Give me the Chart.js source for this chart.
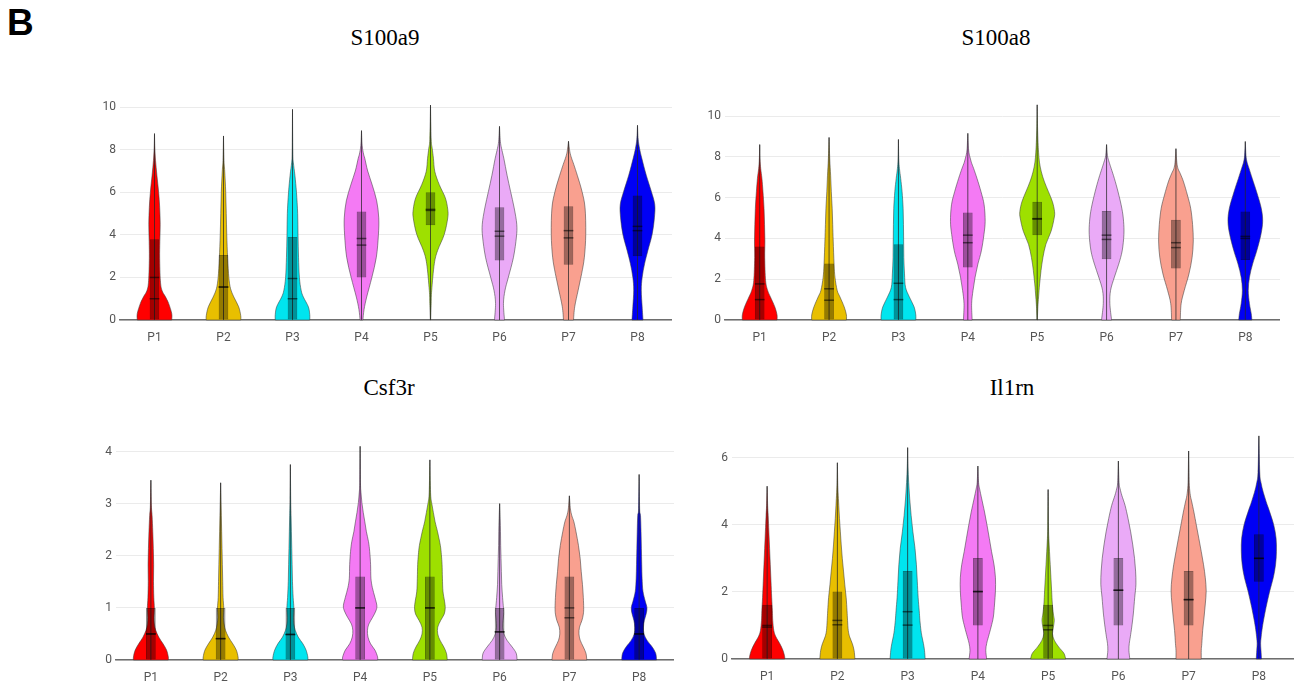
<!DOCTYPE html>
<html lang="en">
<head>
  <meta charset="UTF-8" />
  <title>Violin plots</title>
  <script src="https://cdn.jsdelivr.net/npm/chart.js"></script>
  <style>
    body {
      margin: 0;
      background: #fff;
      width: 1298px;
      height: 681px;
      overflow: hidden;
      position: relative;
    }
    .letter {
      position: absolute;
      left: 7px;
      top: 4px;
      font: bold 37px/37px 'Liberation Sans', Arial, sans-serif;
      color: #000;
    }
    .title {
      position: absolute;
      width: 300px;
      text-align: center;
      font: 23px/23px 'Liberation Serif', 'Times New Roman', serif;
      color: #000;
    }
    canvas {
      position: absolute;
    }
  </style>
</head>
<body>
  <div class="letter">B</div>
  <div class="title" style="left:235px;top:26px">S100a9</div>
  <div class="title" style="left:846px;top:26px">S100a8</div>
  <div class="title" style="left:239px;top:376px">Csf3r</div>
  <div class="title" style="left:862px;top:376px">Il1rn</div>

  <canvas id="cA" width="592" height="250" style="left:80px;top:92px"></canvas>
  <canvas id="cB" width="595" height="250" style="left:685px;top:92px"></canvas>
  <canvas id="cC" width="598" height="250" style="left:76px;top:432px"></canvas>
  <canvas id="cD" width="602" height="261" style="left:692px;top:420px"></canvas>

  <script>
    const categories = ['P1', 'P2', 'P3', 'P4', 'P5', 'P6', 'P7', 'P8'];

    // violin outlines: [value, relative density], last point = max
    const s100a9Profiles = [
      [[0,1],[0.3,1],[0.78,0.82],[1.1,0.63],[1.4,0.43],[1.86,0.34],[2.9,0.3],[3.7,0.31],[4.5,0.33],[5.3,0.3],[6,0.24],[6.8,0.14],[7.5,0.06],[8.1,0.02],[8.76,0]],
      [[0,1],[0.2,1],[0.62,0.88],[1.08,0.6],[1.47,0.41],[2,0.31],[2.9,0.24],[4,0.19],[5,0.16],[6,0.13],[7,0.07],[7.5,0.03],[8.65,0]],
      [[0,1],[0.25,1],[0.62,0.92],[1.08,0.63],[1.4,0.5],[2,0.4],[2.95,0.35],[4,0.32],[5,0.3],[6,0.23],[6.8,0.14],[7.4,0.05],[7.9,0.02],[9.9,0]],
      [[0,0.08],[0.5,0.15],[1.08,0.3],[2,0.6],[2.95,0.86],[4,0.98],[4.8,1],[5.6,0.88],[6.35,0.62],[7,0.36],[7.6,0.19],[7.8,0.12],[8.2,0.04],[8.9,0]],
      [[0,0.01],[0.78,0.04],[1.4,0.07],[2.64,0.22],[3.26,0.41],[4.03,0.8],[4.8,1],[5.2,1],[5.74,0.86],[6.36,0.51],[6.98,0.25],[7.6,0.17],[8.06,0.1],[8.5,0.04],[10.1,0]],
      [[0,0.29],[0.78,0.23],[1.4,0.32],[2,0.51],[2.95,0.81],[3.9,0.98],[4.5,1],[5.27,0.85],[6.05,0.64],[6.8,0.44],[7.6,0.25],[8.06,0.12],[8.4,0.05],[9.1,0]],
      [[0,0.29],[0.62,0.36],[1.4,0.56],[2.17,0.76],[2.95,0.92],[4.03,1],[5.27,0.96],[6.05,0.78],[6.8,0.51],[7.3,0.31],[7.6,0.18],[7.9,0.08],[8.4,0]],
      [[0,0.32],[0.62,0.27],[1.4,0.22],[2,0.27],[2.64,0.41],[3.26,0.6],[4.03,0.85],[4.8,0.98],[5.43,1],[6.05,0.8],[6.8,0.51],[7.6,0.25],[8.06,0.12],[8.5,0.04],[9.15,0]]
    ];
    const s100a9Q1 = [0, 0, 0, 2.0, 4.45, 2.8, 2.6, 3.0];
    const s100a9Q3 = [3.8, 3.05, 3.9, 5.1, 6.0, 5.3, 5.35, 5.85];
    const s100a9Median = [2.0, 1.55, 1.95, 3.83, 5.2, 4.17, 4.2, 4.4];
    const s100a9Mean = [1.0, 1.55, 1.0, 3.52, 5.15, 3.94, 3.86, 4.2];

    const s100a8Profiles = [
      [[0,1],[0.25,1],[0.65,0.87],[1.13,0.62],[1.45,0.46],[1.94,0.34],[3.06,0.29],[3.87,0.3],[4.68,0.28],[5.48,0.25],[6.29,0.19],[6.94,0.13],[7.42,0.06],[7.9,0.02],[8.6,0]],
      [[0,1],[0.25,1],[0.65,0.87],[1.13,0.63],[1.45,0.47],[2.1,0.34],[2.74,0.29],[3.87,0.24],[4.68,0.21],[5.48,0.18],[6.29,0.13],[7.1,0.09],[7.9,0.04],[8.95,0]],
      [[0,1],[0.25,1],[0.65,0.9],[1.13,0.63],[1.6,0.41],[2.26,0.35],[3.06,0.31],[3.87,0.3],[4.68,0.29],[5.48,0.27],[6.29,0.21],[6.94,0.13],[7.42,0.06],[7.9,0.02],[8.85,0]],
      [[0,0.25],[0.8,0.22],[1.45,0.3],[2.1,0.42],[2.74,0.58],[3.39,0.78],[4.19,0.93],[4.84,1],[5.65,0.94],[6.29,0.76],[6.94,0.53],[7.42,0.34],[7.74,0.2],[8.06,0.1],[8.4,0.04],[9.15,0]],
      [[0,0.01],[0.65,0.04],[1.13,0.08],[1.77,0.14],[2.42,0.22],[3.06,0.33],[3.71,0.5],[4.35,0.8],[5,0.98],[5.32,1],[5.8,0.88],[6.29,0.65],[6.77,0.42],[7.26,0.24],[7.74,0.13],[8.23,0.08],[8.7,0.05],[9.5,0.02],[10.55,0]],
      [[0,0.29],[0.8,0.19],[1.45,0.23],[2.1,0.45],[2.74,0.7],[3.39,0.9],[4.19,1],[4.84,0.98],[5.48,0.88],[6.29,0.66],[6.94,0.45],[7.42,0.27],[7.74,0.15],[8.06,0.05],[8.6,0]],
      [[0,0.25],[0.8,0.3],[1.45,0.48],[2.26,0.75],[3.06,0.93],[3.87,1],[4.68,0.96],[5.48,0.85],[6.13,0.66],[6.77,0.44],[7.18,0.25],[7.42,0.12],[7.74,0.05],[8.4,0]],
      [[0,0.38],[0.32,0.34],[0.8,0.24],[1.45,0.17],[2.1,0.24],[2.74,0.42],[3.39,0.66],[4.19,0.9],[4.84,1],[5.48,0.92],[6.29,0.65],[6.94,0.4],[7.42,0.22],[7.74,0.1],[8.06,0.04],[8.75,0]]
    ];
    const s100a8Q1 = [0, 0, 0, 2.58, 4.15, 2.98, 2.53, 2.94];
    const s100a8Q3 = [3.6, 2.77, 3.71, 5.27, 5.8, 5.35, 4.92, 5.32];
    const s100a8Median = [1.77, 1.53, 1.8, 4.16, 4.97, 4.16, 3.79, 4.1];
    const s100a8Mean = [1.0, 0.97, 1.0, 3.79, 4.95, 3.95, 3.55, 4.0];

    const csf3rProfiles = [
      [[0,1],[0.06,1],[0.19,0.9],[0.31,0.7],[0.44,0.45],[0.57,0.28],[0.69,0.2],[0.82,0.18],[1.0,0.2],[1.2,0.17],[1.51,0.15],[1.83,0.16],[2.14,0.14],[2.46,0.11],[2.77,0.07],[2.96,0.03],[3.45,0]],
      [[0,1],[0.06,1],[0.19,0.9],[0.31,0.7],[0.44,0.45],[0.57,0.28],[0.69,0.2],[0.82,0.16],[1.0,0.18],[1.2,0.14],[1.51,0.12],[1.83,0.1],[2.14,0.08],[2.46,0.06],[2.77,0.04],[3.08,0.02],[3.4,0]],
      [[0,1],[0.06,1],[0.19,0.9],[0.31,0.72],[0.44,0.45],[0.57,0.28],[0.69,0.2],[0.82,0.18],[1.0,0.2],[1.2,0.16],[1.51,0.12],[1.83,0.1],[2.14,0.08],[2.46,0.06],[2.77,0.04],[3.08,0.02],[3.75,0]],
      [[0,1],[0.06,1],[0.19,0.85],[0.31,0.6],[0.44,0.45],[0.57,0.42],[0.69,0.5],[0.82,0.72],[0.94,0.9],[1.04,0.96],[1.2,0.85],[1.39,0.7],[1.57,0.62],[1.83,0.6],[2.08,0.55],[2.27,0.48],[2.46,0.36],[2.65,0.27],[2.83,0.18],[3.02,0.1],[3.21,0.05],[3.4,0.02],[4.1,0]],
      [[0,1],[0.13,0.95],[0.25,0.8],[0.38,0.58],[0.5,0.45],[0.63,0.45],[0.76,0.62],[0.88,0.82],[1.0,0.88],[1.13,0.84],[1.32,0.75],[1.57,0.72],[1.83,0.7],[2.02,0.66],[2.2,0.6],[2.46,0.44],[2.65,0.3],[2.83,0.2],[3.02,0.1],[3.21,0.04],[3.84,0]],
      [[0,1],[0.13,0.95],[0.25,0.72],[0.38,0.42],[0.5,0.25],[0.63,0.18],[0.76,0.2],[0.88,0.23],[1.0,0.22],[1.2,0.17],[1.45,0.12],[1.7,0.1],[1.95,0.08],[2.2,0.06],[2.46,0.05],[2.71,0.03],[3.0,0]],
      [[0,1],[0.13,0.95],[0.25,0.8],[0.38,0.62],[0.5,0.55],[0.63,0.58],[0.76,0.72],[0.88,0.8],[1.0,0.82],[1.2,0.8],[1.45,0.75],[1.7,0.68],[1.95,0.62],[2.2,0.52],[2.46,0.38],[2.65,0.26],[2.77,0.14],[2.9,0.06],[3.15,0]],
      [[0,1],[0.13,0.95],[0.25,0.75],[0.38,0.45],[0.5,0.28],[0.63,0.25],[0.76,0.3],[0.88,0.4],[1.0,0.45],[1.13,0.35],[1.32,0.22],[1.57,0.17],[1.83,0.15],[2.14,0.13],[2.46,0.11],[2.77,0.08],[2.9,0.03],[3.56,0]]
    ];
    const csf3rQ1 = [0, 0, 0, 0, 0, 0, 0, 0];
    const csf3rQ3 = [1, 1, 1, 1.6, 1.6, 1, 1.6, 1];
    const csf3rMedian = [0.5, 0.41, 0.49, 1, 1, 0.54, 1, 0.5];
    const csf3rMean = [0.5, 0.41, 0.49, 1, 1, 0.54, 0.81, 0.5];

    const il1rnProfiles = [
      [[0,1],[0.07,1],[0.26,0.9],[0.46,0.72],[0.66,0.5],[0.85,0.38],[1.15,0.32],[1.44,0.3],[1.83,0.26],[2.32,0.22],[2.81,0.18],[3.3,0.14],[3.79,0.1],[4.28,0.06],[4.58,0.03],[5.15,0]],
      [[0,1],[0.26,0.95],[0.46,0.85],[0.66,0.7],[0.85,0.62],[1.15,0.58],[1.44,0.55],[1.83,0.5],[2.23,0.42],[2.62,0.35],[3.0,0.28],[3.4,0.22],[3.79,0.17],[4.19,0.12],[4.58,0.08],[4.97,0.04],[5.26,0.02],[5.85,0]],
      [[0,1],[0.26,0.96],[0.46,0.9],[0.66,0.82],[0.85,0.76],[1.15,0.7],[1.44,0.66],[1.83,0.6],[2.32,0.55],[2.81,0.5],[3.3,0.42],[3.79,0.3],[4.28,0.2],[4.77,0.12],[5.26,0.06],[5.75,0.02],[6.3,0]],
      [[0,0.5],[0.26,0.45],[0.46,0.5],[0.66,0.6],[0.95,0.75],[1.25,0.88],[1.64,0.95],[2.03,1],[2.42,1],[2.81,0.92],[3.2,0.78],[3.6,0.65],[3.99,0.52],[4.38,0.38],[4.77,0.22],[5.07,0.1],[5.26,0.04],[5.75,0]],
      [[0,1],[0.17,0.9],[0.36,0.6],[0.56,0.35],[0.75,0.25],[0.95,0.3],[1.15,0.35],[1.34,0.3],[1.64,0.24],[2.03,0.2],[2.42,0.16],[2.81,0.12],[3.2,0.08],[3.6,0.04],[3.99,0.02],[5.05,0]],
      [[0,0.65],[0.26,0.6],[0.46,0.62],[0.66,0.68],[0.95,0.76],[1.34,0.85],[1.83,0.93],[2.23,1],[2.62,0.98],[3.0,0.92],[3.4,0.82],[3.79,0.7],[4.19,0.55],[4.58,0.38],[4.87,0.2],[5.07,0.1],[5.26,0.04],[5.9,0]],
      [[0,0.72],[0.26,0.72],[0.46,0.75],[0.85,0.8],[1.25,0.88],[1.64,0.95],[2.03,1],[2.42,0.95],[2.81,0.85],[3.2,0.72],[3.6,0.58],[3.99,0.44],[4.38,0.3],[4.68,0.18],[4.87,0.1],[5.17,0.04],[5.56,0.02],[6.2,0]],
      [[0,0.15],[0.26,0.12],[0.46,0.1],[0.66,0.13],[0.95,0.2],[1.25,0.3],[1.64,0.45],[2.03,0.62],[2.42,0.82],[2.81,0.95],[3.2,1],[3.6,0.98],[3.99,0.85],[4.38,0.62],[4.68,0.42],[4.97,0.25],[5.26,0.12],[5.56,0.05],[6.65,0]]
    ];
    const il1rnQ1 = [0, 0, 0, 1, 0, 1, 1, 2.3];
    const il1rnQ3 = [1.62, 2.01, 2.62, 3.01, 1.62, 3.01, 2.62, 3.72];
    const il1rnMedian = [1.0, 1.15, 1.41, 2.01, 1.0, 2.05, 1.77, 3.0];
    const il1rnMean = [0.95, 1.02, 1.01, 2.01, 0.87, 2.05, 1.77, 3.0];

    const palette = ['#ff0000', '#e8bf00', '#00e5ef', '#f47af4', '#9ee000', '#eaaaf7', '#f9a08f', '#0000f5'];

    // smooth catmull-rom pass through the outline points
    function traceSide(ctx, pts) {
      for (let i = 0; i < pts.length - 1; i++) {
        const p0 = pts[Math.max(i - 1, 0)], p1 = pts[i], p2 = pts[i + 1], p3 = pts[Math.min(i + 2, pts.length - 1)];
        ctx.bezierCurveTo(
          p1.x + (p2.x - p0.x) / 6, p1.y + (p2.y - p0.y) / 6,
          p2.x - (p3.x - p1.x) / 6, p2.y - (p3.y - p1.y) / 6,
          p2.x, p2.y);
      }
    }

    const violinPlugin = {
      id: 'violin',
      beforeDatasetsDraw(chart, args, opts) {
        const { ctx, scales: { x, y } } = chart;
        const band = x.getPixelForValue(1) - x.getPixelForValue(0);
        const half = band * 0.25;
        opts.profiles.forEach((prof, i) => {
          const cx = x.getPixelForValue(i);
          const right = prof.map(([v, d]) => ({ x: cx + d * half, y: y.getPixelForValue(v) }));
          const left = prof.map(([v, d]) => ({ x: cx - d * half, y: y.getPixelForValue(v) })).reverse();
          ctx.save();
          ctx.beginPath();
          ctx.moveTo(right[0].x, right[0].y);
          traceSide(ctx, right);
          traceSide(ctx, left);
          ctx.closePath();
          ctx.fillStyle = palette[i];
          ctx.fill();
          ctx.lineWidth = 1;
          ctx.strokeStyle = 'rgba(60,60,60,0.55)';
          ctx.stroke();
          // whisker through the middle
          ctx.beginPath();
          ctx.moveTo(cx, y.getPixelForValue(prof[0][0]));
          ctx.lineTo(cx, y.getPixelForValue(prof[prof.length - 1][0]));
          ctx.strokeStyle = 'rgba(40,40,40,0.75)';
          ctx.stroke();
          ctx.restore();
        });
      },
      afterDatasetsDraw(chart, args, opts) {
        const { ctx, scales: { x, y } } = chart;
        const band = x.getPixelForValue(1) - x.getPixelForValue(0);
        const bw = band * 0.07;
        ctx.save();
        ctx.strokeStyle = 'rgba(0,0,0,0.55)';
        ctx.lineWidth = 1.5;
        [opts.median, opts.mean].forEach(arr => {
          arr.forEach((v, i) => {
            const cx = x.getPixelForValue(i);
            const py = y.getPixelForValue(v);
            ctx.beginPath();
            ctx.moveTo(cx - bw, py);
            ctx.lineTo(cx + bw, py);
            ctx.stroke();
          });
        });
        ctx.restore();
      }
    };

    function makeChart(id, yMax, yStep, profiles, q1, q3, median, mean) {
      const tickFont = { family: 'Roboto', size: 12 };
      new Chart(document.getElementById(id), {
        type: 'bar',
        data: {
          labels: categories,
          datasets: [{
            data: q1.map((v, i) => [v, q3[i]]),
            backgroundColor: 'rgba(0,0,0,0.36)',
            borderColor: 'rgba(0,0,0,0.45)',
            borderWidth: 1,
            borderSkipped: false,
            barPercentage: 0.14,
            categoryPercentage: 1
          }]
        },
        options: {
          responsive: false,
          animation: false,
          events: [],
          layout: { padding: { top: 8, left: 0, right: 0, bottom: 0 } },
          plugins: {
            legend: { display: false },
            tooltip: { enabled: false },
            violin: { profiles, median, mean }
          },
          scales: {
            x: {
              grid: { display: false },
              border: { color: '#6e6e6e', width: 1.5 },
              ticks: { font: tickFont, color: '#555', padding: 3 },
              afterFit: s => { s.height = 22; }
            },
            y: {
              min: 0,
              max: yMax,
              grid: { color: '#ebebeb', drawTicks: false },
              border: { display: false },
              ticks: { stepSize: yStep, includeBounds: false, font: tickFont, color: '#555', padding: 4 },
              afterFit: s => { s.width = 40; }
            }
          }
        },
        plugins: [violinPlugin]
      });
    }

    makeChart('cA', 10.19, 2, s100a9Profiles, s100a9Q1, s100a9Q3, s100a9Median, s100a9Mean);
    makeChart('cB', 10.63, 2, s100a8Profiles, s100a8Q1, s100a8Q3, s100a8Median, s100a8Mean);
    makeChart('cC', 4.16, 1, csf3rProfiles, csf3rQ1, csf3rQ3, csf3rMedian, csf3rMean);
    makeChart('cD', 6.79, 2, il1rnProfiles, il1rnQ1, il1rnQ3, il1rnMedian, il1rnMean);
  </script>
</body>
</html>
